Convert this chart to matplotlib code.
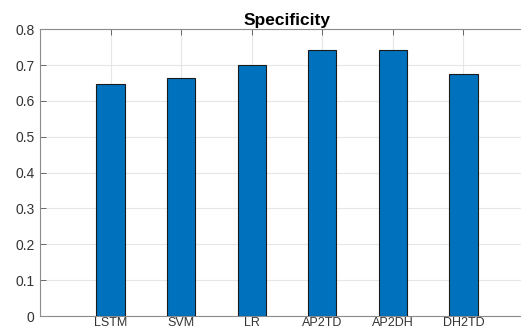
import matplotlib
matplotlib.use("Agg")
import matplotlib.pyplot as plt

categories = ["LSTM", "SVM", "LR", "AP2TD", "AP2DH", "DH2TD"]
values = [0.647, 0.664, 0.701, 0.742, 0.741, 0.674]
yticks = [0, 0.1, 0.2, 0.3, 0.4, 0.5, 0.6, 0.7, 0.8]

plt.rcParams['font.family'] = ['Liberation Sans', 'DejaVu Sans']

W, H = 521, 332
fig = plt.figure(figsize=(W/100, H/100), dpi=100)
left, right, top, bottom = 40, 534, 29.3, 316
ax = fig.add_axes([left/W, 1-bottom/H, (right-left)/W, (bottom-top)/H])

x = list(range(1, len(categories)+1))
ax.bar(x, values, width=0.4, color="#0072BD", edgecolor="#1a1a1a", linewidth=0.8, zorder=3)
ax.set_xlim(0, 7)
ax.set_ylim(0, 0.8)
ax.set_xticks(x)
ax.set_xticklabels(categories)
ax.set_yticks(yticks)
ax.set_yticklabels([("%g" % t) for t in yticks])
ax.grid(True, color="#e6e6e6", linewidth=0.8, zorder=0)
ax.set_axisbelow(True)
for s in ax.spines.values():
    s.set_color("#8c8c8c")
    s.set_linewidth(0.8)
ax.tick_params(direction="in", length=4, width=0.6, color="#555555",
               labelsize=10, labelcolor="#333333", top=True, right=True, pad=4)
ax.tick_params(axis="x", pad=1, labelsize=9)
ax.set_title("Specificity", fontsize=12.5, fontweight="bold", pad=3)

fig.savefig("out.png", dpi=100)
